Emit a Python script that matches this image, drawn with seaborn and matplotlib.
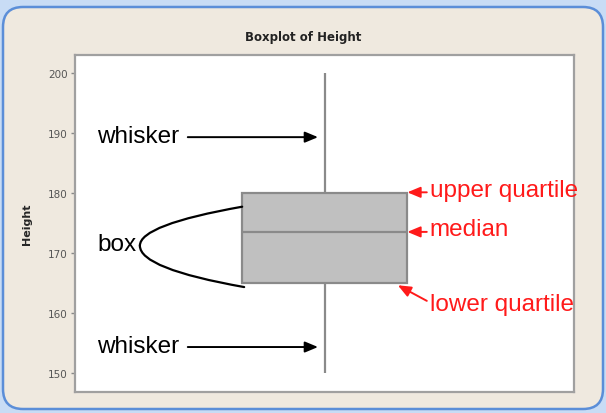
import matplotlib
matplotlib.use("Agg")
import matplotlib.pyplot as plt
from matplotlib.patches import FancyBboxPatch
import numpy as np
import pandas as pd
import seaborn as sns

# five values giving min, Q1, median, Q3, max of the reference box
heights = [150, 165, 173.5, 180, 200]
y_ticks = [150, 160, 170, 180, 190, 200]

sns.set_style("white")
plt.rcParams['font.family'] = ['Liberation Sans', 'DejaVu Sans']

fig = plt.figure(figsize=(6.06, 4.14), dpi=100)
fig.patch.set_facecolor('#c8dcf5')

# rounded beige window panel
panel = FancyBboxPatch((0.03, 0.04), 6.0, 4.02, boxstyle="round,pad=0,rounding_size=0.2",
                       transform=fig.dpi_scale_trans, facecolor='#efe9df',
                       edgecolor='#5b8ed8', linewidth=1.8, zorder=-5)
fig.add_artist(panel)

ax = fig.add_axes([75 / 606, 1 - 393 / 414, 499 / 606, 337 / 414])
df = pd.DataFrame({'Height': heights})
sns.boxplot(data=df, y='Height', ax=ax, width=0.33, color='#c0c0c0', linecolor='#8a8a8a',
            linewidth=1.6, saturation=1, showcaps=False, showfliers=False)

ax.set_xlim(-0.5, 0.5)
ax.set_ylim(146.8, 203)
ax.set_yticks(y_ticks)
ax.set_yticklabels([str(t) for t in y_ticks], fontsize=7.5, color='#555555',
                   family='DejaVu Sans')
ax.set_xticks([])
ax.set_xlabel('')
ax.set_ylabel('Height', fontsize=8, fontweight='bold', family='DejaVu Sans', labelpad=12)
ax.tick_params(axis='y', direction='out', length=3, width=1, color='#888888', left=True, pad=2)
for s in ax.spines.values():
    s.set_color('#a0a0a0')
    s.set_linewidth(1.6)

fig.text(0.5, 1 - 38 / 414, 'Boxplot of Height', ha='center', va='center',
         fontsize=8.5, fontweight='bold', family='DejaVu Sans', color='#222222')

# annotations
head = '-|>,head_length=0.6,head_width=0.25'
arrow_k = dict(arrowstyle=head, color='black', lw=1.4, mutation_scale=13, shrinkA=0, shrinkB=0)
arrow_r = dict(arrowstyle=head, color='#ff1a1a', lw=1.4, mutation_scale=13, shrinkA=0, shrinkB=0)
fs = 17.5

ax.text(-0.456, 189.5, 'whisker', fontsize=fs, va='center', ha='left', color='black')
ax.annotate('', xy=(-0.013, 189.3), xytext=(-0.274, 189.3), arrowprops=arrow_k)
ax.text(-0.456, 154.5, 'whisker', fontsize=fs, va='center', ha='left', color='black')
ax.annotate('', xy=(-0.013, 154.3), xytext=(-0.274, 154.3), arrowprops=arrow_k)

ax.text(-0.456, 171.5, 'box', fontsize=fs, va='center', ha='left', color='black')
ax.annotate('', xy=(-0.165, 177.7), xytext=(-0.370, 171.2),
            arrowprops=dict(arrowstyle='-', color='black', lw=1.6,
                            connectionstyle='angle3,angleA=90,angleB=10', shrinkA=0, shrinkB=0))
ax.annotate('', xy=(-0.161, 164.3), xytext=(-0.370, 171.2),
            arrowprops=dict(arrowstyle='-', color='black', lw=1.6,
                            connectionstyle='angle3,angleA=-90,angleB=-10', shrinkA=0, shrinkB=0))

ax.text(0.211, 180.5, 'upper quartile', fontsize=fs, va='center', ha='left', color='#ff1a1a',
        clip_on=False, zorder=5)
ax.annotate('', xy=(0.166, 180.1), xytext=(0.205, 180.1), arrowprops=arrow_r, annotation_clip=False)
ax.text(0.211, 174.0, 'median', fontsize=fs, va='center', ha='left', color='#ff1a1a',
        clip_on=False, zorder=5)
ax.annotate('', xy=(0.166, 173.5), xytext=(0.205, 173.5), arrowprops=arrow_r, annotation_clip=False)
ax.text(0.211, 161.5, 'lower quartile', fontsize=fs, va='center', ha='left', color='#ff1a1a',
        clip_on=False, zorder=5)
ax.annotate('', xy=(0.147, 164.6), xytext=(0.205, 162.0), arrowprops=arrow_r, annotation_clip=False)

fig.savefig('out.png', dpi=100, facecolor=fig.get_facecolor())
